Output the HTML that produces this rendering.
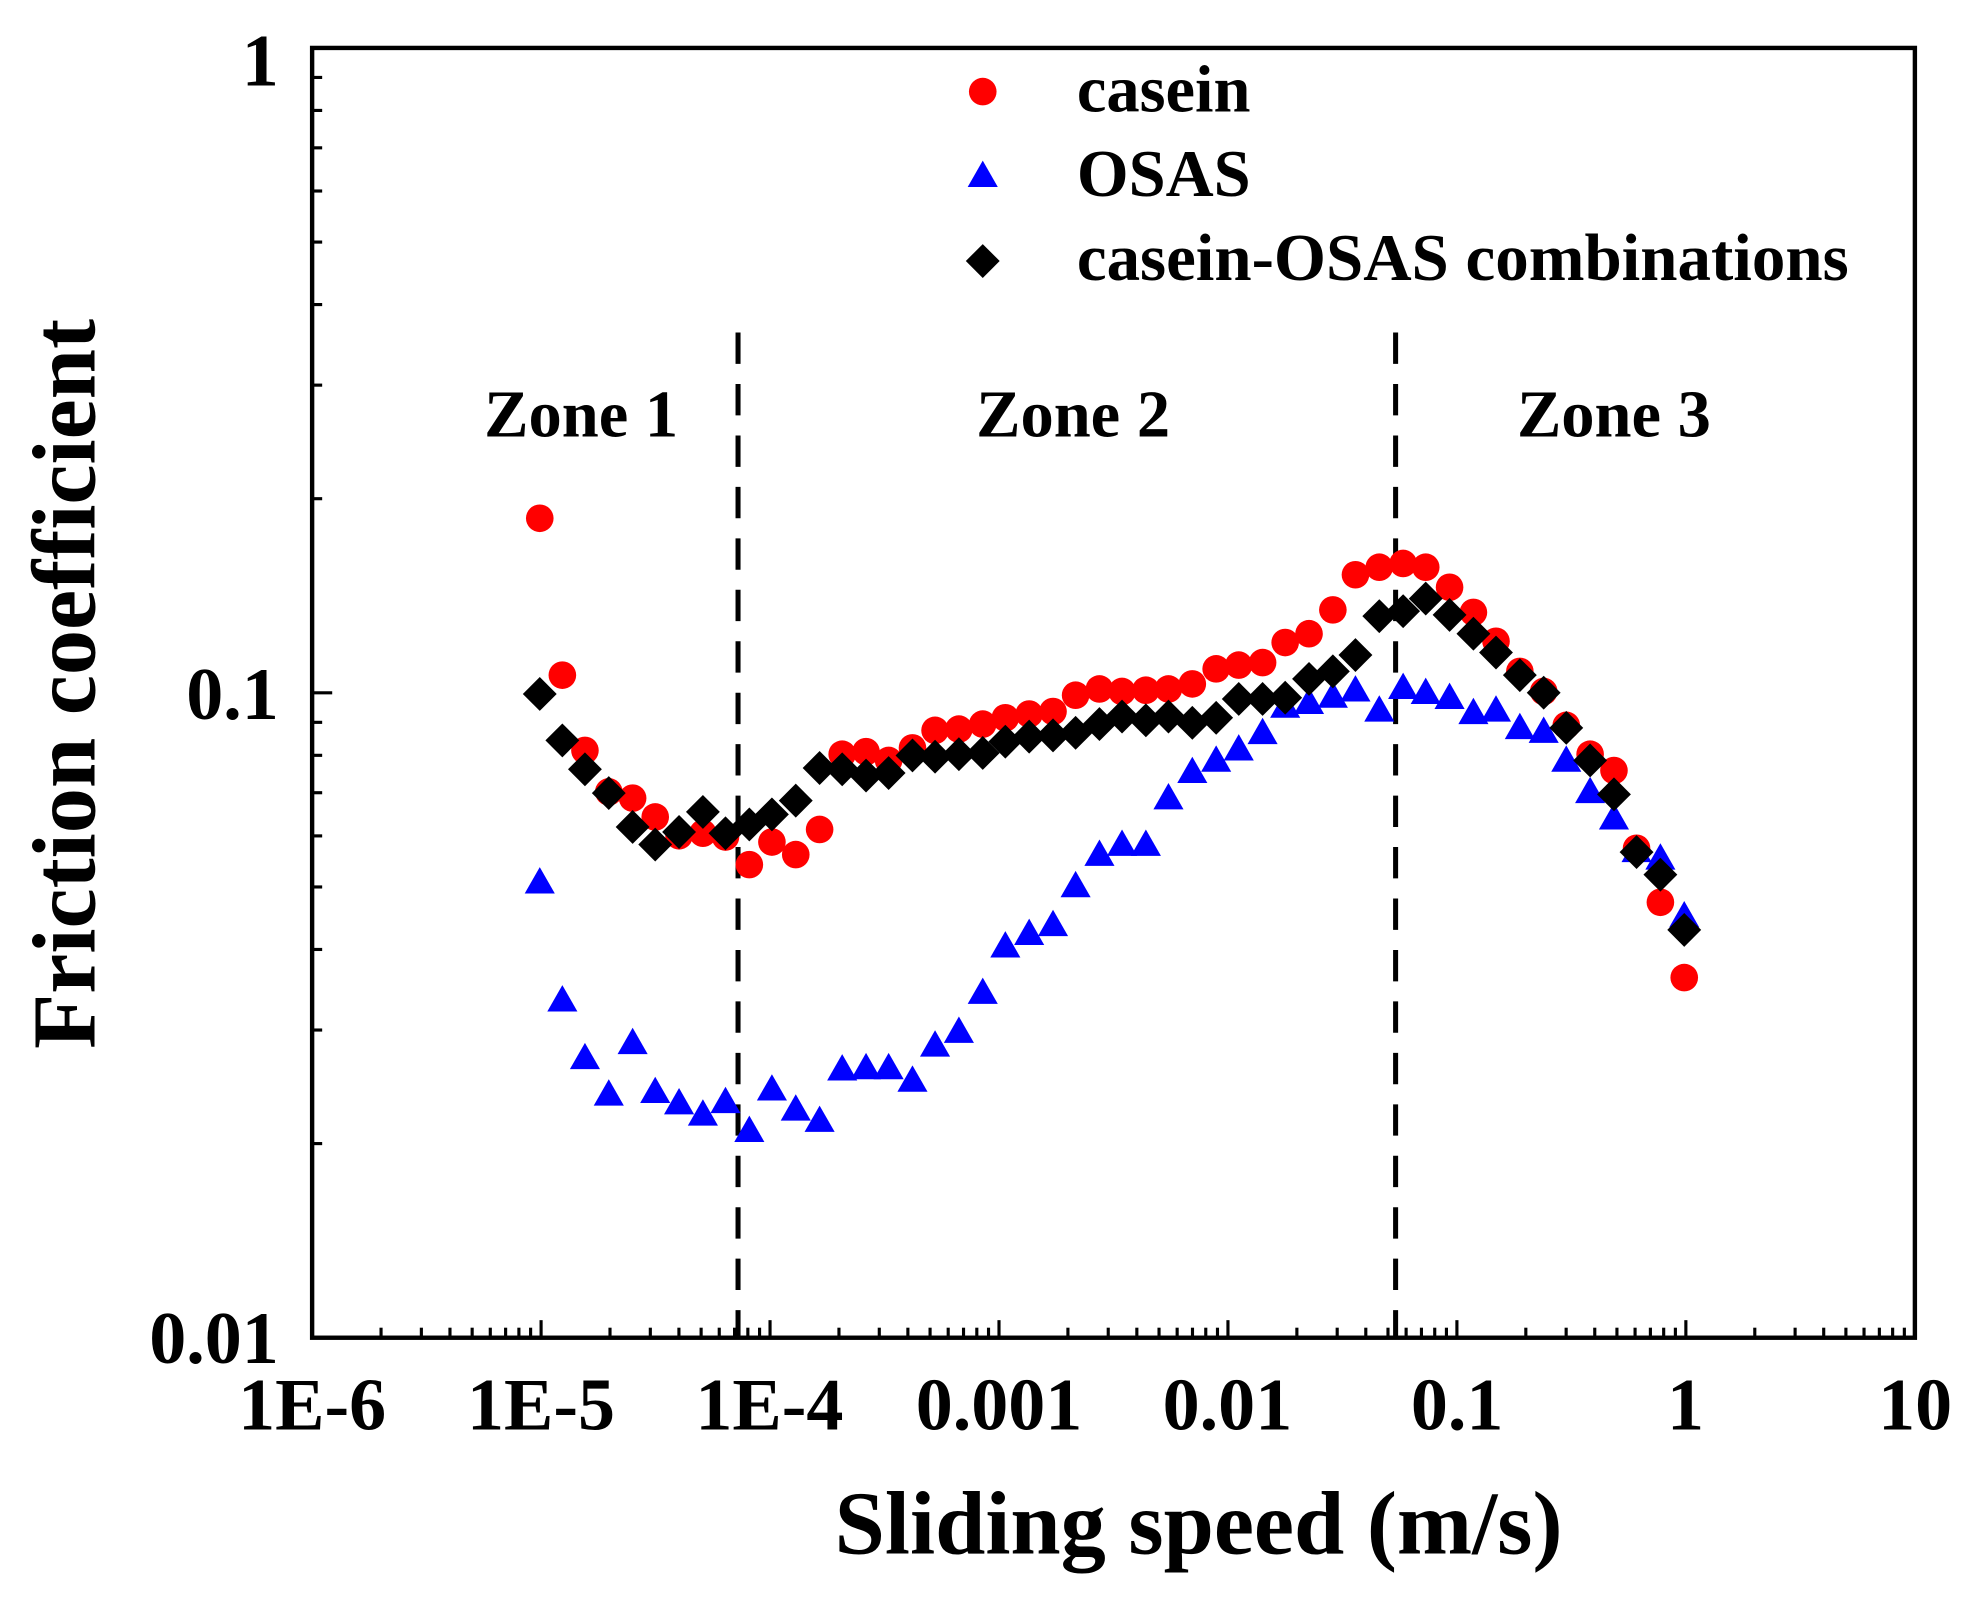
<!DOCTYPE html>
<html><head><meta charset="utf-8"><style>
html,body{margin:0;padding:0;background:#fff;}
svg{display:block;}
text{font-family:"Liberation Serif",serif;font-weight:bold;fill:#000;}
</style></head><body>
<svg id="s" width="1968" height="1600" viewBox="0 0 1568 1275" xmlns="http://www.w3.org/2000/svg">
<rect x="0" y="0" width="1568" height="1275" fill="#fff"/>
<g id="ticks" stroke="#000" stroke-width="2.5"></g>
<rect x="248.6" y="38.2" width="1277.2" height="1027.8" fill="none" stroke="#000" stroke-width="3.5"/>
<line x1="588" y1="265" x2="588" y2="1066" stroke="#000" stroke-width="4" stroke-dasharray="25,16"/>
<line x1="1112" y1="265" x2="1112" y2="1066" stroke="#000" stroke-width="4" stroke-dasharray="25,16"/>
<g font-size="59">
<text x="222" y="68" text-anchor="end">1</text>
<text x="222" y="573" text-anchor="end">0.1</text>
<text x="222" y="1086" text-anchor="end">0.01</text>
</g>
<g font-size="59" text-anchor="middle">
<text x="248.6" y="1139">1E-6</text>
<text x="431" y="1139">1E-5</text>
<text x="613" y="1139">1E-4</text>
<text x="796" y="1139">0.001</text>
<text x="978" y="1139">0.01</text>
<text x="1161" y="1139">0.1</text>
<text x="1343" y="1139">1</text>
<text x="1526" y="1139">10</text>
</g>
<text x="955" y="1238" font-size="72" text-anchor="middle">Sliding speed (m/s)</text>
<text transform="translate(75,545) rotate(-90)" font-size="72" text-anchor="middle">Friction coefficient</text>
<g font-size="53" text-anchor="middle">
<text x="463" y="348">Zone 1</text>
<text x="855" y="348">Zone 2</text>
<text x="1286" y="348">Zone 3</text>
</g>
<g font-size="53">
<text x="858" y="89">casein</text>
<text x="858" y="156">OSAS</text>
<text x="858" y="223" textLength="615" lengthAdjust="spacingAndGlyphs">casein-OSAS combinations</text>
</g>
<g id="pts"></g>
</svg>
<script>
var NS="http://www.w3.org/2000/svg";
function el(t,a,p){var e=document.createElementNS(NS,t);for(var k in a)e.setAttribute(k,a[k]);p.appendChild(e);return e;}
var tk=document.getElementById('ticks');
var L=248.6,B=1066,T=38.2,dx=182.45,dy=513.9;
for(var d=0;d<7;d++){for(var m=1;m<10;m++){var x=L+(d+Math.log10(m))*dx;if(m==1&&d==0)continue;el('line',{x1:x,y1:B,x2:x,y2:B-(m==1?14:8)},tk);}}
for(var d=0;d<2;d++){for(var m=1;m<10;m++){var y=B-(d+Math.log10(m))*dy;if(m==1&&d==0)continue;el('line',{x1:L,y1:y,x2:L+(m==1?16:8),y2:y},tk);}}
var P=document.getElementById('pts');
function circ(x,y){el('circle',{cx:x,cy:y,r:11,fill:'#ff0000'},P);}
function tri(x,y){el('polygon',{points:(x)+','+(y-12)+' '+(x-12)+','+(y+9)+' '+(x+12)+','+(y+9),fill:'#0000ff'},P);}
function dia(x,y){var r=13.5;el('polygon',{points:x+','+(y-r)+' '+(x+r)+','+y+' '+x+','+(y+r)+' '+(x-r)+','+y,fill:'#000'},P);}
var xs=[430,448,466,485,504,522,541,560,578,597,615,634,653,671,690,708,727,745,764,783,801,820,839,857,876,894,913,931,950,969,987,1006,1024,1043,1062,1080,1099,1118,1136,1155,1174,1192,1211,1230,1248,1267,1286,1304,1323,1342];
var ca=[413,538,598,631,636,651,666,664,667,689,671,681,661,601,599,606,596,582,581,577,572,569,567,554,549,551,550,549,545,533,530,528,512,505,486,458,452,449,452,468,488,511,535,551,578,601,614,676,719,779];
var os=[703,797,843,872,831,870,879,888,878,901,868,884,893,852,851,851,861,833,822,791,754,744,737,706,681,673,673,636,615,606,597,584,563,560,555,550,566,548,552,556,568,566,580,583,606,631,652,678,684,730];
var co=[553,590,613,632,659,673,663,647,664,657,649,638,612,613,618,616,602,603,601,600,591,587,586,584,577,571,574,571,576,572,557,557,556,541,535,522,491,487,477,490,505,520,538,552,580,606,633,679,697,741];
for(var i=0;i<xs.length;i++)tri(xs[i],os[i]);
for(var i=0;i<xs.length;i++)circ(xs[i],ca[i]);
for(var i=0;i<xs.length;i++)dia(xs[i],co[i]);
circ(783,73);tri(783,140);dia(783,208);
</script>
</body></html>
